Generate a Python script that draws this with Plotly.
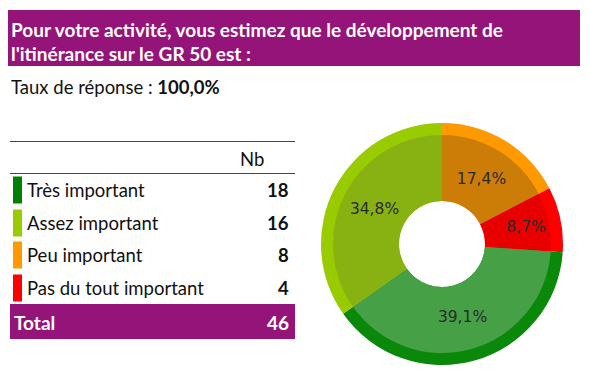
import plotly.graph_objects as go

# ---- data ----
categories = ["Très important", "Assez important", "Peu important", "Pas du tout important"]
counts = [18, 16, 8, 4]
bar_colors = ["#008000", "#99CC00", "#FF9900", "#FF0000"]
title_lines = ["Pour votre activité, vous estimez que le développement de",
               "l'itinérance sur le GR 50 est :"]
response_rate = "100,0%"
# donut order (clockwise from 12 o'clock)
pie_order = [2, 3, 0, 1]
rim_colors = {0: "#0A880A", 1: "#99CC00", 2: "#FF9900", 3: "#FF0000"}
inner_colors = {0: "#46A046", 1: "#88B212", 2: "#CC7D08", 3: "#E80000"}

# page has an 8px body margin: figure fills the rest of the 590x377 window
OFF = 8
W, H = 590 - OFF, 377 - 2 * OFF
FONT = "Lato"
PURPLE = "#951479"

def px(x):
    return (x - OFF) / W

def py(y):
    return 1 - (y - OFF) / H

total = sum(counts)
pie_labels = [categories[i] for i in pie_order]
pie_values = [counts[i] for i in pie_order]
pie_text = [("%.1f%%" % (v / total * 100)).replace(".", ",") for v in pie_values]

fig = go.Figure()

cx, cy, R, Ri, rh = 442, 244, 121, 109, 43
fig.add_trace(go.Pie(
    labels=pie_labels, values=pie_values, sort=False, direction="clockwise", rotation=0,
    hole=rh / R, marker=dict(colors=[rim_colors[i] for i in pie_order], line=dict(width=0)),
    textinfo="none", hoverinfo="skip", showlegend=False,
    domain=dict(x=[px(cx - R), px(cx + R)], y=[py(cy + R), py(cy - R)]),
))
fig.add_trace(go.Pie(
    labels=pie_labels, values=pie_values, sort=False, direction="clockwise", rotation=0,
    hole=rh / Ri, marker=dict(colors=[inner_colors[i] for i in pie_order], line=dict(width=0)),
    text=pie_text, textinfo="text", textposition="inside", insidetextorientation="horizontal",
    textfont=dict(family="DejaVu Sans", size=15.5, color="#2a2a2a"),
    hoverinfo="label+value", showlegend=False,
    domain=dict(x=[px(cx - Ri), px(cx + Ri)], y=[py(cy + Ri), py(cy - Ri)]),
))

shapes = []
ann = []
# title band
shapes.append(dict(type="rect", xref="paper", yref="paper", x0=px(7), x1=px(580), y0=py(66), y1=py(10),
                   fillcolor=PURPLE, line=dict(width=0), layer="below"))
for i, t in enumerate(title_lines):
    ann.append(dict(text="<b>%s</b>" % t, x=px(9), y=py(29 + 24 * i), xref="paper", yref="paper",
                    xanchor="left", yanchor="middle", showarrow=False,
                    font=dict(family=FONT, size=19, color="white")))
ann.append(dict(text="Taux de réponse : <b>%s</b>" % response_rate, x=px(9), y=py(87), xref="paper",
                yref="paper", xanchor="left", yanchor="middle", showarrow=False,
                font=dict(family=FONT, size=18.5, color="#111111")))

# table lines
for yl in (141.5, 173.5):
    shapes.append(dict(type="line", xref="paper", yref="paper", x0=px(10), x1=px(295), y0=py(yl), y1=py(yl),
                       line=dict(color=PURPLE, width=1.2)))
ann.append(dict(text="Nb", x=px(252), y=py(159), xref="paper", yref="paper", xanchor="center",
                yanchor="middle", showarrow=False, font=dict(family=FONT, size=18.5, color="#111111")))
row_y = [190, 223, 255, 288]
for cat, n, col, yc in zip(categories, counts, bar_colors, row_y):
    shapes.append(dict(type="rect", xref="paper", yref="paper", x0=px(13), x1=px(22), y0=py(yc + 13.5),
                       y1=py(yc - 13.5), fillcolor=col, line=dict(width=0)))
    ann.append(dict(text=cat, x=px(25), y=py(yc), xref="paper", yref="paper", xanchor="left",
                    yanchor="middle", showarrow=False, font=dict(family=FONT, size=18.5, color="#111111")))
    ann.append(dict(text="<b>%d</b>" % n, x=px(291), y=py(yc), xref="paper", yref="paper", xanchor="right",
                    yanchor="middle", showarrow=False, font=dict(family=FONT, size=18.5, color="#111111")))
# total band
shapes.append(dict(type="rect", xref="paper", yref="paper", x0=px(10), x1=px(295), y0=py(339), y1=py(304),
                   fillcolor=PURPLE, line=dict(width=0)))
ann.append(dict(text="<b>Total</b>", x=px(12), y=py(322), xref="paper", yref="paper", xanchor="left",
                yanchor="middle", showarrow=False, font=dict(family=FONT, size=19, color="white")))
ann.append(dict(text="<b>%d</b>" % total, x=px(291), y=py(322), xref="paper", yref="paper", xanchor="right",
                yanchor="middle", showarrow=False, font=dict(family=FONT, size=19, color="white")))

fig.update_layout(width=W, height=H, margin=dict(l=0, r=0, t=0, b=0), paper_bgcolor="white",
                  plot_bgcolor="white", shapes=shapes, annotations=ann, showlegend=False)
fig.write_html("out.html")
